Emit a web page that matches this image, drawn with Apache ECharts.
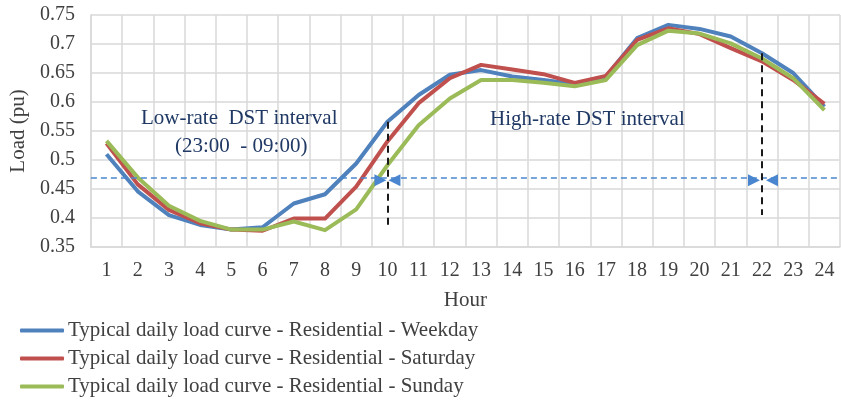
<!DOCTYPE html>
<html>
<head>
<meta charset="utf-8">
<script src="https://cdn.jsdelivr.net/npm/echarts@6/dist/echarts.min.js"></script>
<style>
  html, body { margin: 0; padding: 0; background: #ffffff; }
  #chart { width: 841px; height: 402px; }
</style>
</head>
<body>
<div id="chart"></div>
<script>
// Hours of the day (x categories)
const hours = ['1','2','3','4','5','6','7','8','9','10','11','12',
               '13','14','15','16','17','18','19','20','21','22','23','24'];

// Typical daily residential load (per unit)
const weekday  = [0.510, 0.446, 0.405, 0.388, 0.380, 0.384, 0.425, 0.441, 0.494, 0.566, 0.612, 0.647,
                  0.655, 0.644, 0.638, 0.631, 0.644, 0.710, 0.733, 0.726, 0.713, 0.684, 0.650, 0.592];
const saturday = [0.529, 0.458, 0.414, 0.391, 0.380, 0.378, 0.399, 0.399, 0.454, 0.532, 0.598, 0.641,
                  0.664, 0.656, 0.648, 0.633, 0.645, 0.707, 0.727, 0.717, 0.693, 0.670, 0.638, 0.597];
const sunday   = [0.533, 0.470, 0.421, 0.395, 0.380, 0.380, 0.394, 0.379, 0.415, 0.491, 0.560, 0.606,
                  0.638, 0.638, 0.633, 0.627, 0.638, 0.698, 0.723, 0.718, 0.701, 0.675, 0.641, 0.586];

const seriesNames = [
  'Typical daily load curve - Residential - Weekday',
  'Typical daily load curve - Residential - Saturday',
  'Typical daily load curve - Residential - Sunday'
];

// DST boundaries and threshold level
const thresholdLevel = 0.465;
const dstStart = '10', dstStartTop = 0.566, dstStartBottom = 0.385;
const dstEnd   = '22', dstEndTop   = 0.684, dstEndBottom   = 0.405;

const FONT = '"Liberation Serif", "DejaVu Serif", serif';
const TEXT = '#404040';
const NAVY = '#1f3864';
const BLUE = '#4f81bd', RED = '#c0504d', GREEN = '#9bbb59';
const ARROW = '#4a86cf';

const chart = echarts.init(document.getElementById('chart'), null, { renderer: 'canvas' });

const labels = [
  { type: 'text', x: 141, y: 118, z: 100,
    style: { text: 'Low-rate  DST interval', font: '21px ' + FONT, fill: NAVY, verticalAlign: 'middle' } },
  { type: 'text', x: 175, y: 146, z: 100,
    style: { text: '(23:00  - 09:00)', font: '21px ' + FONT, fill: NAVY, verticalAlign: 'middle' } },
  { type: 'text', x: 490, y: 119, z: 100,
    style: { text: 'High-rate DST interval', font: '21px ' + FONT, fill: NAVY, verticalAlign: 'middle' } }
];

const option = {
  backgroundColor: '#ffffff',
  animation: false,
  textStyle: { fontFamily: FONT },
  grid: { left: 90, right: 1, top: 15, bottom: 155 },
  legend: {
    orient: 'vertical',
    left: 20,
    top: 320,
    height: 82,
    padding: 0,
    itemGap: 7,
    itemWidth: 44,
    itemHeight: 4,
    icon: 'roundRect',
    textStyle: { fontFamily: FONT, fontSize: 21, color: TEXT, padding: [0, 0, 0, -1] },
    data: seriesNames
  },
  xAxis: {
    type: 'category',
    data: hours,
    boundaryGap: true,
    name: 'Hour',
    nameLocation: 'middle',
    nameGap: 43,
    nameTextStyle: { fontFamily: FONT, fontSize: 21, color: TEXT },
    axisLine: { lineStyle: { color: '#d9d9d9', width: 1.5 } },
    axisTick: { show: false },
    axisLabel: { fontFamily: FONT, fontSize: 20, color: TEXT, margin: 14 },
    splitLine: { show: true, interval: 0, lineStyle: { color: '#d9d9d9', width: 1.5 } }
  },
  yAxis: {
    type: 'value',
    min: 0.35,
    max: 0.75,
    interval: 0.05,
    name: 'Load (pu)',
    nameLocation: 'middle',
    nameGap: 56,
    nameTextStyle: { fontFamily: FONT, fontSize: 21, color: TEXT },
    axisLine: { show: true, lineStyle: { color: '#d9d9d9', width: 1.5 } },
    axisTick: { show: false },
    axisLabel: { fontFamily: FONT, fontSize: 20, color: TEXT, margin: 16,
                 formatter: v => String(parseFloat(v.toFixed(2))) },
    splitLine: { lineStyle: { color: '#d9d9d9', width: 1.5 } }
  },
  series: [
    {
      name: seriesNames[0], type: 'line', data: weekday,
      showSymbol: false, symbol: 'none', color: BLUE,
      lineStyle: { width: 4, color: BLUE, join: 'round' }, z: 2,
      markLine: {
        silent: true, symbol: 'none',
        label: { show: false },
        lineStyle: { color: ARROW, type: [6, 4], width: 1.5 },
        data: [ { yAxis: thresholdLevel } ]
      }
    },
    {
      name: seriesNames[1], type: 'line', data: saturday,
      showSymbol: false, symbol: 'none', color: RED,
      lineStyle: { width: 4, color: RED, join: 'round' }, z: 3
    },
    {
      name: seriesNames[2], type: 'line', data: sunday,
      showSymbol: false, symbol: 'none', color: GREEN,
      lineStyle: { width: 4, color: GREEN, join: 'round' }, z: 4,
      markLine: {
        silent: true, symbol: 'none',
        label: { show: false },
        lineStyle: { color: '#1a1a1a', type: [7, 5], width: 2 },
        data: [
          [ { coord: [dstStart, dstStartTop] }, { coord: [dstStart, dstStartBottom] } ],
          [ { coord: [dstEnd, dstEndTop] },     { coord: [dstEnd, dstEndBottom] } ]
        ]
      }
    }
  ],
  graphic: labels
};

chart.setOption(option);

// Arrow heads pointing at the two DST boundaries on the threshold line
const p1 = chart.convertToPixel({ xAxisIndex: 0, yAxisIndex: 0 }, [dstStart, thresholdLevel]);
const p2 = chart.convertToPixel({ xAxisIndex: 0, yAxisIndex: 0 }, [dstEnd, thresholdLevel]);
function tri(px, py, dir) {
  // dir = 1: points right (tip at px), dir = -1: points left (tip at px)
  return {
    type: 'polygon', z: 10,
    shape: { points: [[px, py], [px - dir * 12, py - 6], [px - dir * 12, py + 6]] },
    style: { fill: ARROW }
  };
}
chart.setOption({
  graphic: labels.concat([
    tri(p1[0] - 1, p1[1], 1), tri(p1[0] + 1, p1[1], -1),
    tri(p2[0] - 2, p2[1], 1), tri(p2[0] + 4, p2[1], -1)
  ])
});
</script>
</body>
</html>
